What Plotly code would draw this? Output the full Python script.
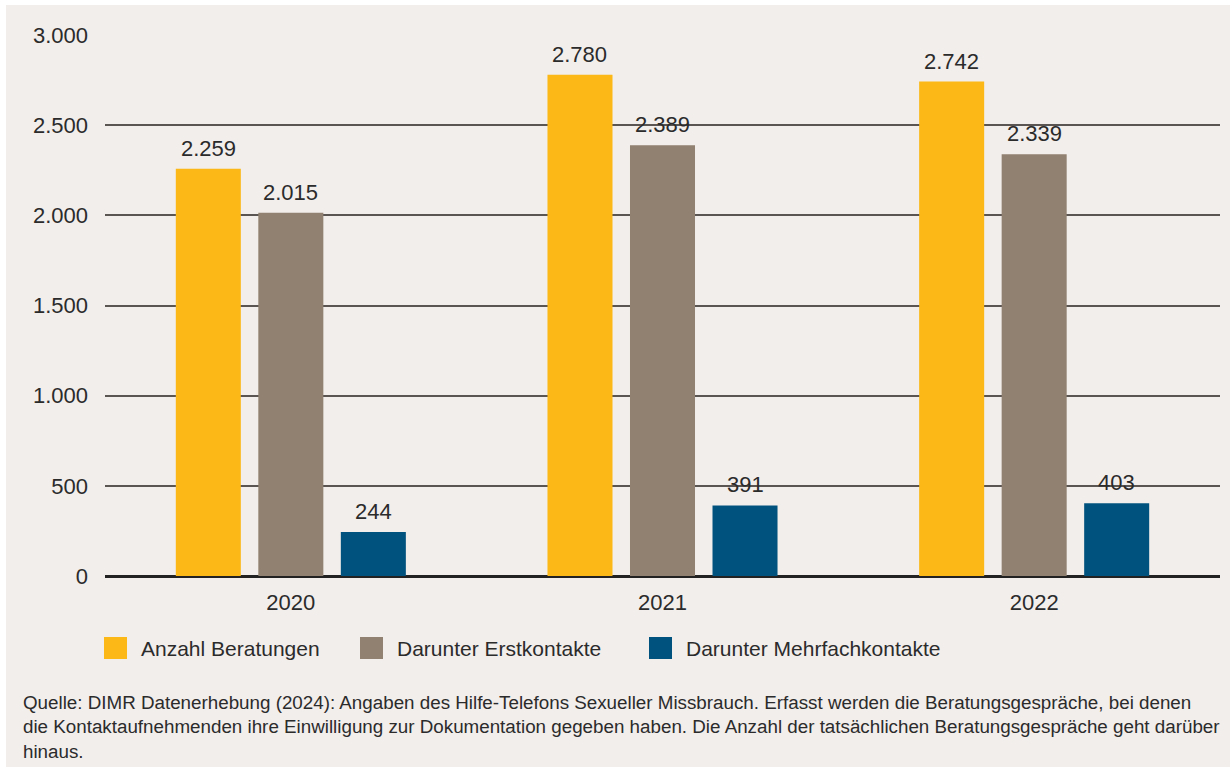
import plotly.graph_objects as go

# ---- data ----
years = ["2020", "2021", "2022"]
series_names = ["Anzahl Beratungen", "Darunter Erstkontakte", "Darunter Mehrfachkontakte"]
anzahl_beratungen = [2259, 2780, 2742]
erstkontakte = [2015, 2389, 2339]
mehrfachkontakte = [244, 391, 403]
y_ticks = [0, 500, 1000, 1500, 2000, 2500, 3000]
y_tick_labels = ["0", "500", "1.000", "1.500", "2.000", "2.500", "3.000"]
source_note = ("Quelle: DIMR Datenerhebung (2024): Angaben des Hilfe-Telefons Sexueller Missbrauch. "
               "Erfasst werden die Beratungsgespräche, bei denen<br>die Kontaktaufnehmenden ihre Einwilligung "
               "zur Dokumentation gegeben haben. Die Anzahl der tatsächlichen Beratungsgespräche geht darüber<br>hinaus.")

series_values = [anzahl_beratungen, erstkontakte, mehrfachkontakte]
colors = ["#FBB817", "#918170", "#00527E"]

# ---- layout geometry (pixels) ----
W, H = 1230, 770
PL, PR, PT, PB = 105, 1220, 35, 576
FONT = "Liberation Sans, Arial, sans-serif"
TXT = "#2b2b2b"
BG = "#F2EEEB"

def px_x(p):
    return (p - PL) / (PR - PL)

def px_y(p):
    return (PB - p) / (PB - PT)

fig = go.Figure()
for name, vals, col in zip(series_names, series_values, colors):
    fig.add_trace(go.Bar(x=years, y=vals, name=name, marker=dict(color=col, line=dict(width=0)),
                         showlegend=False, hoverinfo="x+y+name"))

bargap = 0.334
bargroupgap = 0.212
slot = (PR - PL) / len(years) * (1 - bargap) / len(series_names)

annotations = []
# value labels above bars
for i, vals in enumerate(series_values):
    for j, v in enumerate(vals):
        annotations.append(dict(
            x=j, y=v, xref="x", yref="y", text=f"{v:,}".replace(",", "."),
            showarrow=False, xanchor="center", yanchor="bottom",
            xshift=(i - 1) * slot, yshift=6,
            font=dict(family=FONT, size=22, color=TXT)))

# manual legend
legend_sq_x = [104, 360, 649]
legend_txt_x = [139, 395, 684]
legend_y = 648
shapes = [dict(type="rect", xref="paper", yref="paper",
               x0=px_x(6), x1=px_x(1230), y0=px_y(767), y1=px_y(5),
               fillcolor=BG, line=dict(width=0), layer="below")]
for name, col, sx, tx in zip(series_names, colors, legend_sq_x, legend_txt_x):
    shapes.append(dict(type="rect", xref="paper", yref="paper",
                       x0=px_x(sx), x1=px_x(sx + 23), y0=px_y(legend_y + 11), y1=px_y(legend_y - 11),
                       fillcolor=col, line=dict(width=0)))
    annotations.append(dict(x=px_x(tx), y=px_y(legend_y), xref="paper", yref="paper", text=name,
                            showarrow=False, xanchor="left", yanchor="middle",
                            font=dict(family=FONT, size=21, color=TXT)))

# source note
annotations.append(dict(x=px_x(21), y=px_y(690), xref="paper", yref="paper", text=source_note,
                        showarrow=False, xanchor="left", yanchor="top", align="left",
                        font=dict(family=FONT, size=18.8, color=TXT)))

fig.update_layout(
    width=W, height=H,
    margin=dict(l=PL, r=W - PR, t=PT, b=H - PB, pad=0),
    paper_bgcolor="white", plot_bgcolor="rgba(0,0,0,0)",
    barmode="group", bargap=bargap, bargroupgap=bargroupgap,
    separators=",.",
    font=dict(family=FONT, size=22, color=TXT),
    showlegend=False,
    shapes=shapes, annotations=annotations,
    xaxis=dict(type="category", range=[-0.5, len(years) - 0.5], autorange=False,
               showgrid=False, showline=False, zeroline=False,
               ticks="outside", ticklen=7, tickcolor="rgba(0,0,0,0)",
               tickfont=dict(family=FONT, size=22, color=TXT), fixedrange=True),
    yaxis=dict(range=[0, 3000], autorange=False, tickvals=y_ticks, ticktext=y_tick_labels,
               showgrid=True, gridcolor="#5a5552", gridwidth=1.8,
               zeroline=True, zerolinecolor="#222222", zerolinewidth=2.6,
               showline=False, ticks="", ticklabelstandoff=16,
               tickfont=dict(family=FONT, size=22, color=TXT), fixedrange=True),
)

fig.write_html("out.html", config={"displayModeBar": False},
               post_script="document.body.style.margin='0';")
